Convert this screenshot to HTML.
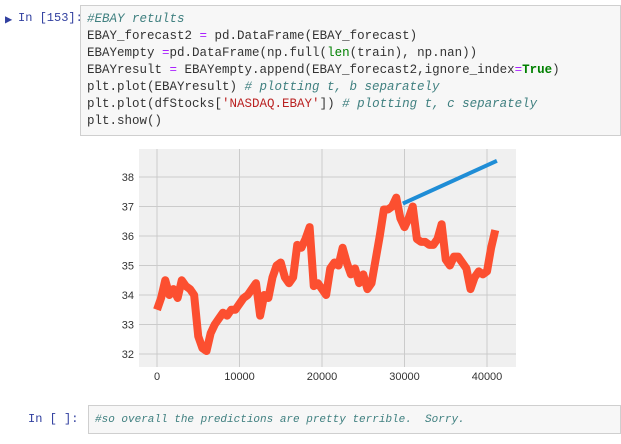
<!DOCTYPE html>
<html><head><meta charset="utf-8"><style>
body{margin:0;width:621px;height:444px;background:#fff;position:relative;overflow:hidden;font-family:"Liberation Mono",monospace}
.prompt{position:absolute;color:#303F9F;font-size:12px}
.box{position:absolute;background:#f7f7f7;border:1px solid #cfcfcf;box-sizing:border-box}
.code{position:absolute;left:6px;top:5px;font-size:12.5px;line-height:17px;white-space:pre;color:#333}
.cm{color:#408080;font-style:italic}.kw{color:#008000;font-weight:bold}.bi{color:#008000}.st{color:#BA2121}.op{color:#AA22FF}
</style></head><body>
<div class="prompt" style="left:5px;top:12px;font-size:12px">▶</div>
<div class="prompt" style="left:18px;top:11px">In [153]:</div>
<div class="box" style="left:80px;top:5px;width:541px;height:131px">
<div class="code"><span class="cm">#EBAY retults</span>
EBAY_forecast2 <span class="op">=</span> pd.DataFrame(EBAY_forecast)
EBAYempty <span class="op">=</span>pd.DataFrame(np.full(<span class="bi">len</span>(train), np.nan))
EBAYresult <span class="op">=</span> EBAYempty.append(EBAY_forecast2,ignore_index<span class="op">=</span><span class="kw">True</span>)
plt.plot(EBAYresult) <span class="cm"># plotting t, b separately</span>
plt.plot(dfStocks[<span class="st">'NASDAQ.EBAY'</span>]) <span class="cm"># plotting t, c separately</span>
plt.show()</div></div>
<svg id="chart" style="position:absolute;left:0;top:0" width="621" height="400"></svg>
<div class="prompt" style="left:28px;top:412px">In [ ]:</div>
<div class="box" style="left:88px;top:405px;width:533px;height:29px">
<div class="code" style="top:6px;font-size:11px"><span class="cm">#so overall the predictions are pretty terrible.  Sorry.</span></div></div>
<script>
const actualX = [0,500,1000,1500,2000,2500,3000,3500,4000,4500,5000,5500,6000,6500,7000,7500,8000,8500,9000,9500,10000,10500,11000,11500,12000,12500,13000,13500,14000,14500,15000,15500,16000,16500,17000,17500,18000,18500,19000,19500,20000,20500,21000,21500,22000,22500,23000,23500,24000,24500,25000,25500,26000,26500,27000,27500,28000,28500,29000,29500,30000,30500,31000,31500,32000,32500,33000,33500,34000,34500,35000,35500,36000,36500,37000,37500,38000,38500,39000,39500,40000,40500,41000];
const actualY = [33.5,33.9,34.5,34.0,34.2,33.9,34.5,34.3,34.2,34.0,32.6,32.2,32.1,32.7,33.0,33.2,33.4,33.3,33.5,33.5,33.7,33.9,34.0,34.2,34.4,33.3,34.0,33.9,34.6,35.0,35.1,34.6,34.4,34.6,35.7,35.6,35.9,36.3,34.3,34.4,34.2,34.0,34.9,35.1,35.0,35.6,35.1,34.7,34.9,34.4,34.7,34.2,34.4,35.2,36.0,36.9,36.9,37.0,37.3,36.6,36.3,36.6,37.0,35.9,35.8,35.8,35.7,35.7,35.9,36.4,35.2,35.0,35.3,35.3,35.1,34.9,34.2,34.6,34.8,34.7,34.8,35.6,36.2];
const forecastX = [29800,41200];
const forecastY = [37.1,38.55];
const xTicks = [0,10000,20000,30000,40000];
const yTicks = [32,33,34,35,36,37,38];
const NS='http://www.w3.org/2000/svg';
const svg=document.getElementById('chart');
const L=139,R=516,T=149,B=367;
const xs=v=>157+v*(330/40000);
const ys=v=>354-(v-32)*29.5;
function mk(t,a){const e=document.createElementNS(NS,t);for(const k in a)e.setAttribute(k,a[k]);svg.appendChild(e);return e;}
const bg=mk('rect',{x:L,y:T,width:R-L,height:B-T,fill:'#f0f0f0'});


xTicks.forEach(t=>{
 const g=mk('line',{x1:xs(t),x2:xs(t),y1:T,y2:B,stroke:'#cbcbcb','stroke-width':1});
 
 
 const l=mk('text',{x:xs(t),y:B+13,'text-anchor':'middle','font-size':11,'font-family':'Liberation Sans, sans-serif',fill:'#333'});
 l.textContent=t;
 
 
});
yTicks.forEach(t=>{
 const g=mk('line',{x1:L,x2:R,y1:ys(t),y2:ys(t),stroke:'#cbcbcb','stroke-width':1});
 
 
 const l=mk('text',{x:L-5,y:ys(t)+4,'text-anchor':'end','font-size':11,'font-family':'Liberation Sans, sans-serif',fill:'#333'});
 l.textContent=t;
 
 
});
const f=mk('polyline',{points:forecastX.map((x,i)=>xs(x)+','+ys(forecastY[i])).join(' '),fill:'none',stroke:'#1f8dd6','stroke-width':4});


const a=mk('polyline',{points:actualX.map((x,i)=>xs(x)+','+ys(actualY[i])).join(' '),fill:'none',stroke:'#fc4f30','stroke-width':8,'stroke-linejoin':'round'});


</script>
</body></html>
